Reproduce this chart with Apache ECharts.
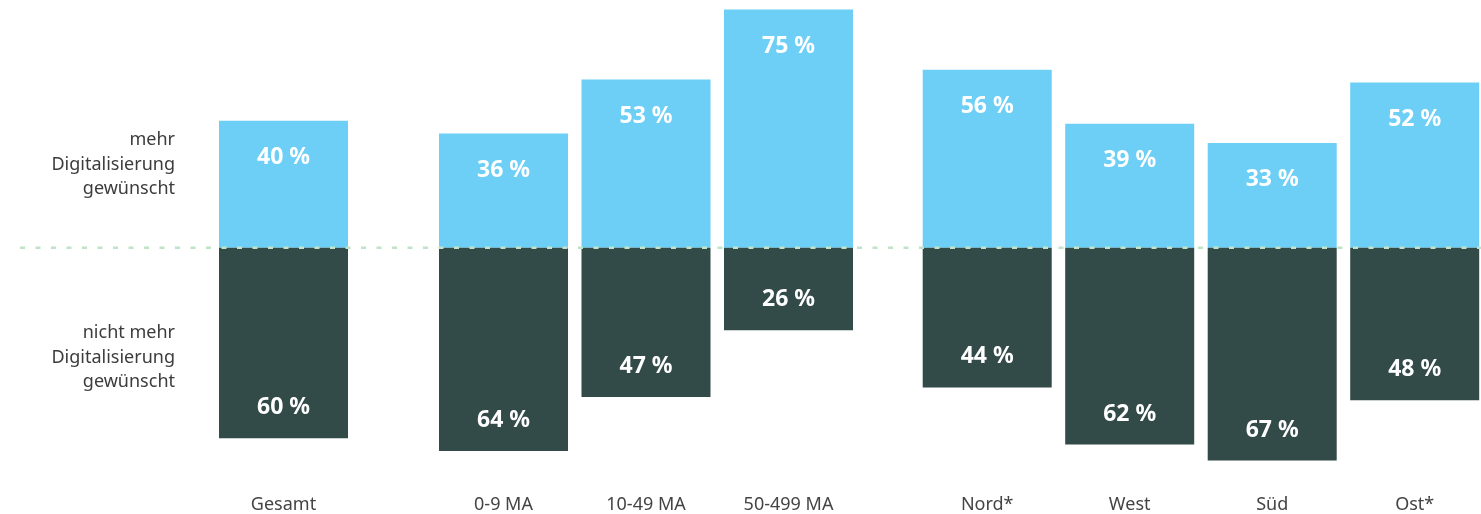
<!DOCTYPE html>
<html>
<head>
<meta charset="utf-8">
<script src="https://cdn.jsdelivr.net/npm/echarts@6/dist/echarts.min.js"></script>
<style>
html,body{margin:0;padding:0;background:#fff;}
#c{width:1481px;height:514px;}
</style>
</head>
<body>
<div id="c"></div>
<script>
// Data
const groupTotal = ['Gesamt'];
const groupSize = ['0-9 MA', '10-49 MA', '50-499 MA'];
const groupRegion = ['Nord*', 'West', 'Süd', 'Ost*'];

const moreTotal = [40];
const notMoreTotal = [60];
const moreSize = [36, 53, 75];
const notMoreSize = [64, 47, 26];
const moreRegion = [56, 39, 33, 52];
const notMoreRegion = [44, 62, 67, 48];

const legendMore = ['mehr', 'Digitalisierung', 'gewünscht'];
const legendNotMore = ['nicht mehr', 'Digitalisierung', 'gewünscht'];

const BLUE = '#6dcff6';
const DARK = '#324a48';
const FONT = 'Noto Sans';

const groups = [
  {cats: groupTotal, more: moreTotal, less: notMoreTotal, left: 212.25, width: 142.5, gap: true},
  {cats: groupSize, more: moreSize, less: notMoreSize, left: 432.25, width: 427.5, gap: true},
  {cats: groupRegion, more: moreRegion, less: notMoreRegion, left: 987.2, width: 427.5, gap: false}
];

const grids = [], xAxes = [], yAxes = [], series = [];
const yBase = {type: 'value', min: -70, max: 78, show: false, splitLine: {show: false}};

groups.forEach((g, i) => {
  grids.push({left: g.left, width: g.width, top: 0, height: 470, containLabel: false});
  xAxes.push({
    type: 'category', gridIndex: i, data: g.cats, boundaryGap: g.gap,
    axisLine: {show: false}, axisTick: {show: false},
    axisLabel: {margin: 26, fontSize: 18, color: '#444', fontFamily: FONT}
  });
  yAxes.push(Object.assign({gridIndex: i}, yBase));
  series.push({
    type: 'bar', xAxisIndex: i, yAxisIndex: i, data: g.more,
    barWidth: 129, barGap: '-100%', itemStyle: {color: BLUE},
    label: {show: true, position: 'insideTop', distance: 25.5, formatter: p => Math.abs(p.value) + ' %',
      color: '#fff', fontWeight: 'bold', fontSize: 23, fontFamily: FONT},
    silent: true, animation: false
  });
  series.push({
    type: 'bar', xAxisIndex: i, yAxisIndex: i, data: g.less.map(v => -v),
    barWidth: 129, barGap: '-100%', itemStyle: {color: DARK},
    label: {show: true, position: 'insideBottom', distance: 19, formatter: p => Math.abs(p.value) + ' %',
      color: '#fff', fontWeight: 'bold', fontSize: 23, fontFamily: FONT},
    silent: true, animation: false
  });
});

// background grid for the zero line
grids.push({left: 20, right: 0, top: 0, height: 470});
xAxes.push({type: 'category', gridIndex: 3, data: ['a', 'b'], boundaryGap: false, show: false});
yAxes.push(Object.assign({gridIndex: 3}, yBase));
series.push({
  type: 'line', xAxisIndex: 3, yAxisIndex: 3, data: [0, 0], symbol: 'none', z: 10,
  lineStyle: {color: '#bfe3c6', width: 2.5, type: [5, 10.5], cap: 'butt'},
  silent: true, animation: false
});

const textStyle = {fontSize: 18, fill: '#3c3c3c', fontFamily: FONT, align: 'right', verticalAlign: 'top', lineHeight: 24.5};

const chart = echarts.init(document.getElementById('c'), null, {renderer: 'canvas'});
chart.setOption({
  animation: false,
  grid: grids, xAxis: xAxes, yAxis: yAxes, series: series,
  graphic: [
    {type: 'text', x: 175, y: 128, style: Object.assign({text: legendMore.join('\n')}, textStyle)},
    {type: 'text', x: 175, y: 321, style: Object.assign({text: legendNotMore.join('\n')}, textStyle)}
  ]
});
</script>
</body>
</html>
